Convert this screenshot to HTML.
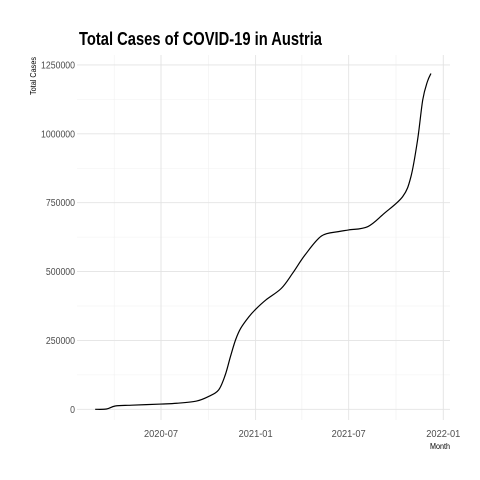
<!DOCTYPE html>
<html><head><meta charset="utf-8"><style>
html,body{margin:0;padding:0;background:#fff;}
svg{display:block;font-family:"Liberation Sans",sans-serif;}
</style></head><body>
<svg id="chart" width="480" height="480">
<rect width="480" height="480" fill="#fff"/>
<text x="79" y="45" font-size="18" font-weight="bold" fill="#000" textLength="243" lengthAdjust="spacingAndGlyphs">Total Cases of COVID-19 in Austria</text>
<text transform="translate(36,76) rotate(-90)" font-size="8" fill="#000" text-anchor="middle" textLength="38" lengthAdjust="spacingAndGlyphs">Total Cases</text>
<text x="440" y="449" font-size="8" fill="#000" text-anchor="middle" textLength="20" lengthAdjust="spacingAndGlyphs">Month</text>
<g id="grid"></g><g id="ticks"></g><g id="series"></g>
</svg>
<script>
const dates=["2020-02-24","2020-03-17","2020-04-03","2020-05-05","2020-07-01","2020-08-01","2020-09-08","2020-10-01","2020-10-21","2020-11-03","2020-11-13","2020-11-23","2020-12-03","2020-12-19","2021-01-01","2021-01-21","2021-02-20","2021-03-14","2021-04-07","2021-05-09","2021-06-11","2021-07-01","2021-08-07","2021-09-08","2021-10-14","2021-10-30","2021-11-12","2021-11-22","2021-12-01","2021-12-08"];
const cases=[0,1000,12000,15000,19000,22000,30000,46000,70000,125000,191000,252000,294000,336000,363000,397000,439000,494000,560000,629000,645000,651000,663000,711000,772000,844000,978000,1123000,1189000,1219000];
const yTicks=[0,250000,500000,750000,1000000,1250000];
const xTicks=["2020-07-01","2021-01-01","2021-07-01","2022-01-01"];
const xTickLabels=["2020-07","2021-01","2021-07","2022-01"];
const xMinor=["2020-04-01","2020-10-01","2021-04-01","2021-10-01"];
const NS="http://www.w3.org/2000/svg";
const t0=Date.parse("2020-07-01");
function xs(d){return 161+(Date.parse(d)-t0)/86400000*0.5142;}
function ys(v){return 409.3-v/250000*68.87;}
const L=77,R=450,T=55,B=420;
function mk(tag,attrs,parent){const e=document.createElementNS(NS,tag);for(const k in attrs)e.setAttribute(k,attrs[k]);parent.appendChild(e);return e;}
const grid=document.getElementById('grid'),ticks=document.getElementById('ticks'),series=document.getElementById('series');
for(let i=0;i<yTicks.length-1;i++){const y=ys((yTicks[i]+yTicks[i+1])/2);
const g=mk('line',{x1:L,x2:R,y1:y,y2:y,stroke:'#f0f0f0','stroke-width':0.6},grid);

}
xMinor.forEach(d=>{const x=xs(d);
const g=mk('line',{x1:x,x2:x,y1:T,y2:B,stroke:'#f0f0f0','stroke-width':0.6},grid);

});
yTicks.forEach(v=>{const y=ys(v);
const g=mk('line',{x1:L,x2:R,y1:y,y2:y,stroke:'#e3e3e3','stroke-width':0.9},grid);


const s=String(v);
const t=mk('text',{x:75,y:y+3.5,'font-size':10,fill:'#4d4d4d','text-anchor':'end',textLength:s.length*4.85,lengthAdjust:'spacingAndGlyphs'},ticks);t.textContent=s;

});
xTicks.forEach((d,i)=>{const x=xs(d);
const g=mk('line',{x1:x,x2:x,y1:T,y2:B,stroke:'#e3e3e3','stroke-width':0.9},grid);


const t=mk('text',{x:x,y:437,'font-size':10,fill:'#4d4d4d','text-anchor':'middle',textLength:34,lengthAdjust:'spacingAndGlyphs'},ticks);t.textContent=xTickLabels[i];

});
const pts=dates.map((d,i)=>[xs(d),ys(cases[i])]);
let p="M"+pts[0][0]+","+pts[0][1];
for(let i=0;i<pts.length-1;i++){const a=pts[i-1]||pts[i],b=pts[i],c=pts[i+1],d=pts[i+2]||c;
p+=" C"+(b[0]+(c[0]-a[0])/6)+","+(b[1]+(c[1]-a[1])/6)+" "+(c[0]-(d[0]-b[0])/6)+","+(c[1]-(d[1]-b[1])/6)+" "+c[0]+","+c[1];}
const line=mk('path',{d:p,fill:'none',stroke:'#000','stroke-width':1.2},series);


</script>
</body></html>
